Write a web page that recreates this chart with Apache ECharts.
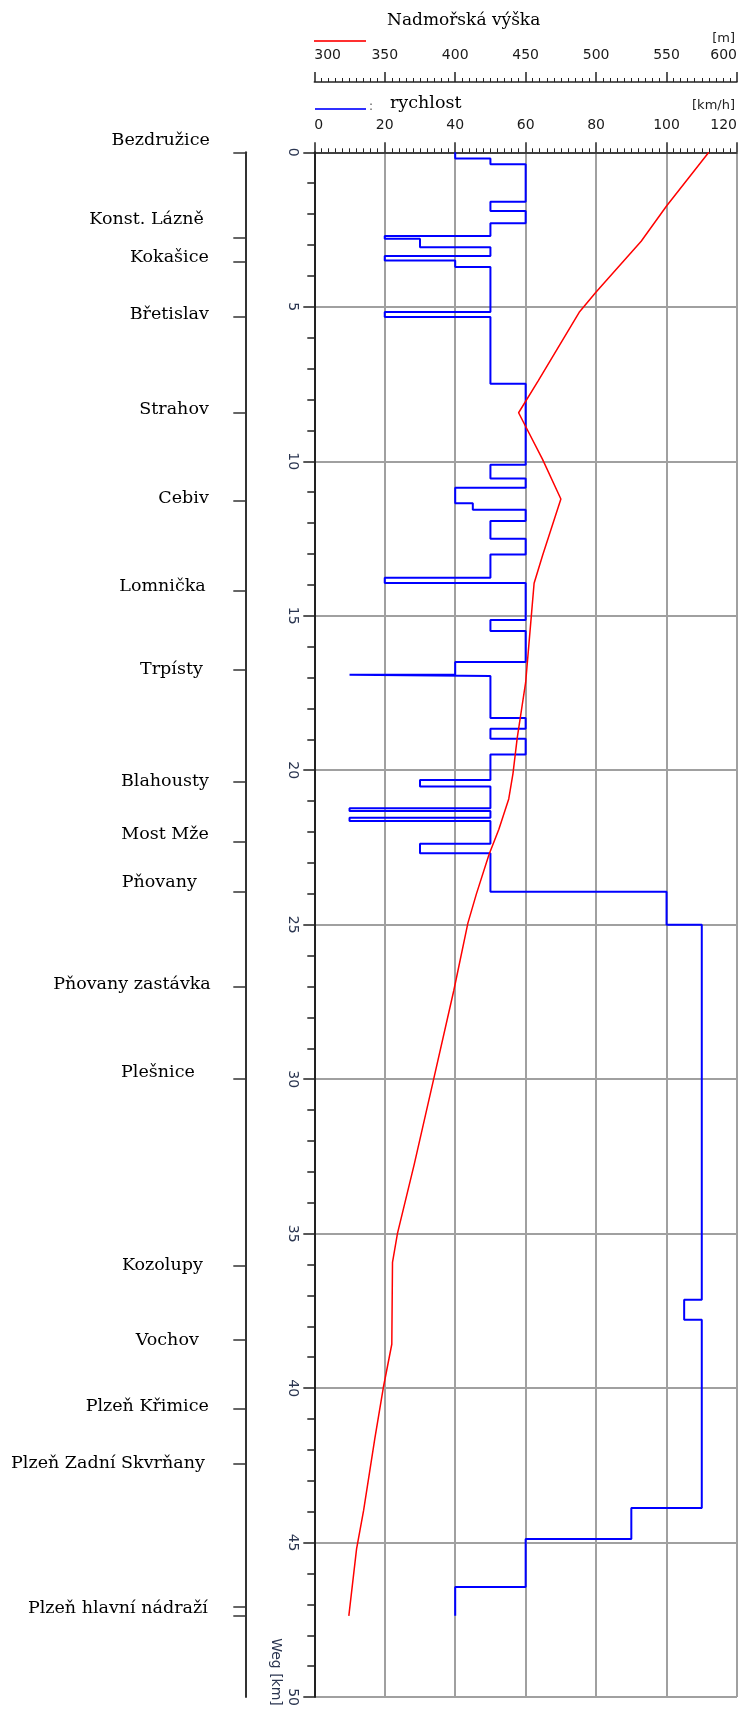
<!DOCTYPE html>
<html>
<head>
<meta charset="utf-8">
<script src="https://cdn.jsdelivr.net/npm/echarts@6/dist/echarts.min.js"></script>
<style>
  html, body { margin: 0; padding: 0; background: #ffffff; }
  #chart { width: 740px; height: 1709px; }
</style>
</head>
<body>
<div id="chart"></div>
<script>
// ---- Line profile Bezdružice – Plzeň hlavní nádraží ----

// Permitted speed: segment i starts at speedFromKm[i] and lasts until the next start
const speedFromKm = [0, 0.2, 0.39, 1.6, 1.9, 2.3, 2.71, 2.8, 3.07, 3.36, 3.5, 3.71, 5.17, 5.33, 7.49,
  10.11, 10.56, 10.86, 11.36, 11.57, 11.93, 12.51, 13.02, 13.77, 13.94, 15.14, 15.49, 16.5, 16.91, 16.95,
  18.31, 18.66, 18.98, 19.49, 20.32, 20.53, 21.23, 21.32, 21.54, 21.64, 22.38, 22.69, 23.93, 25.0,
  37.14, 37.79, 43.88, 44.88, 46.44];
const speedKmh = [40, 50, 60, 50, 60, 50, 20, 30, 50, 20, 40, 50, 20, 50, 60,
  50, 60, 40, 45, 60, 50, 60, 50, 20, 60, 50, 60, 40, 10, 50,
  60, 50, 60, 50, 30, 50, 10, 50, 10, 50, 30, 50, 100, 110,
  105, 110, 90, 60, 40];
const routeEndKm = 47.37;

// Elevation above sea level along the line
const elevKm = [0, 1.74, 2.88, 4.52, 5.18, 7.39, 8.43, 9.94, 11.22, 13.05, 13.95, 15.02, 17.16, 18.96,
  20.11, 20.93, 21.91, 22.73, 24.01, 24.95, 27.13, 29.94, 32.74, 35.0, 35.93, 38.58, 39.98, 41.62,
  43.96, 45.2, 47.37];
const elevM = [580, 550, 532, 500, 488, 459, 445, 462, 475, 462, 456, 454, 450, 444,
  441, 438, 431, 424, 415, 409, 399, 385, 371, 359, 355.5, 355, 349, 343,
  335, 330, 324.5];

// Stations and stops
const stationNames = ['Bezdružice', 'Konst. Lázně', 'Kokašice', 'Břetislav', 'Strahov', 'Cebiv',
  'Lomnička', 'Trpísty', 'Blahousty', 'Most Mže', 'Pňovany', 'Pňovany zastávka', 'Plešnice',
  'Kozolupy', 'Vochov', 'Plzeň Křimice', 'Plzeň Zadní Skvrňany', 'Plzeň hlavní nádraží'];
const stationKm = [0, 2.75, 3.55, 5.32, 8.44, 11.27, 14.19, 16.74, 20.37, 22.32, 23.94, 27.02, 29.98,
  36.04, 38.43, 40.68, 42.45, 47.07];

// Axis ranges and steps
const distanceAxis = { min: 0, max: 50, step: 5 };
const speedAxis = { min: 0, max: 120, step: 20 };
const elevAxis = { min: 300, max: 600, step: 50 };

// Station label placement nudges [dx, dy] in px (layout only)
const stationLabelShift = [[0, -12], [-6, -18], [-1, -5], [-1, -2], [-1, -4], [-1, -2],
  [-4, -4], [-7, 0], [-1, 0], [-1, -7], [-13, -9], [1, -3], [-15, -6],
  [-7, 0], [-11, 1], [-1, -3], [-5, 0], [-2, 2]];

// Build the stepped speed polyline from the segments
const speedPath = [];
speedFromKm.forEach(function (start, i) {
  const end = i + 1 < speedFromKm.length ? speedFromKm[i + 1] : routeEndKm;
  speedPath.push([speedKmh[i], start], [speedKmh[i], end]);
});
const elevPath = elevKm.map(function (k, i) { return [elevM[i], k]; });

const AXIS_COLOR = '#222';
const GRID_COLOR = '#a0a0a0';
const sans = 'DejaVu Sans';
const serif = 'DejaVu Serif';

const chart = echarts.init(document.getElementById('chart'), null, { renderer: 'canvas' });

chart.setOption({
  animation: false,
  backgroundColor: '#ffffff',
  grid: { left: 314.3, top: 152.3, width: 424.7, height: 1555.5, containLabel: false },
  xAxis: [
    {
      type: 'value', position: 'top',
      min: speedAxis.min, max: speedAxis.max, interval: speedAxis.step,
      axisLine: { show: true, onZero: false, lineStyle: { color: AXIS_COLOR, width: 1.5 } },
      axisTick: { show: true, length: 10, lineStyle: { color: AXIS_COLOR, width: 1.5 } },
      minorTick: { show: true, splitNumber: 10, length: 4, lineStyle: { color: AXIS_COLOR, width: 1 } },
      axisLabel: { margin: 20, fontFamily: sans, fontSize: 14, color: '#1a1a1a',
        alignMinLabel: 'left', alignMaxLabel: 'right' },
      splitLine: { show: true, lineStyle: { color: GRID_COLOR, width: 2 } }
    },
    {
      type: 'value', position: 'top', offset: 70.3,
      min: elevAxis.min, max: elevAxis.max, interval: elevAxis.step,
      axisLine: { show: true, onZero: false, lineStyle: { color: AXIS_COLOR, width: 1.5 } },
      axisTick: { show: true, length: 10, lineStyle: { color: AXIS_COLOR, width: 1.5 } },
      minorTick: { show: true, splitNumber: 10, length: 4, lineStyle: { color: AXIS_COLOR, width: 1 } },
      axisLabel: { margin: 20, fontFamily: sans, fontSize: 14, color: '#1a1a1a',
        alignMinLabel: 'left', alignMaxLabel: 'right' },
      splitLine: { show: false }
    }
  ],
  yAxis: [
    {
      type: 'value', position: 'left', inverse: true,
      min: distanceAxis.min, max: distanceAxis.max, interval: distanceAxis.step,
      axisLine: { show: true, onZero: false, lineStyle: { color: AXIS_COLOR, width: 2 } },
      axisTick: { show: true, length: 11, lineStyle: { color: AXIS_COLOR, width: 1.5 } },
      minorTick: { show: true, splitNumber: 5, length: 7, lineStyle: { color: AXIS_COLOR, width: 1.5 } },
      axisLabel: { rotate: -90, margin: 15, fontFamily: sans, fontSize: 14, color: '#2a3550' },
      splitLine: { show: true, lineStyle: { color: GRID_COLOR, width: 2 } }
    },
    {
      // station axis to the left of the plot
      type: 'value', position: 'left', inverse: true, offset: 69,
      min: distanceAxis.min, max: distanceAxis.max,
      axisLine: { show: true, onZero: false, lineStyle: { color: '#333', width: 2 } },
      axisTick: { show: true, length: 12, customValues: stationKm.concat([routeEndKm]),
        lineStyle: { color: '#333', width: 1.5 } },
      axisLabel: { show: false },
      splitLine: { show: false }
    }
  ],
  series: [
    {
      name: 'rychlost', type: 'line', xAxisIndex: 0, yAxisIndex: 0,
      data: speedPath, symbol: 'none', silent: true,
      lineStyle: { color: '#0000ff', width: 2 }
    },
    {
      name: 'Nadmořská výška', type: 'line', xAxisIndex: 1, yAxisIndex: 0,
      data: elevPath, symbol: 'none', silent: true,
      lineStyle: { color: '#ff0000', width: 1.5 }
    },
    {
      name: 'stanice', type: 'scatter', xAxisIndex: 0, yAxisIndex: 1, clip: false, silent: true,
      symbolSize: 1, itemStyle: { color: '#ffffff', opacity: 0 },
      data: stationKm.map(function (k, i) {
        return { value: [0, k], label: { offset: stationLabelShift[i] } };
      }),
      label: {
        show: true, position: 'left', distance: 104, opacity: 1,
        formatter: function (p) { return stationNames[p.dataIndex]; },
        fontFamily: serif, fontSize: 17.5, color: '#000000'
      }
    }
  ],
  graphic: [
    { type: 'text', left: 387, top: 12,
      style: { text: 'Nadmořská výška', fontFamily: serif, fontSize: 17, fill: '#000' } },
    { type: 'line', shape: { x1: 314, y1: 41, x2: 366, y2: 41 },
      style: { stroke: '#ff3030', lineWidth: 2 } },
    { type: 'text', right: 5, top: 32,
      style: { text: '[m]', fontFamily: sans, fontSize: 13, fill: '#222' } },
    { type: 'line', shape: { x1: 315, y1: 109, x2: 366, y2: 109 },
      style: { stroke: '#3030ff', lineWidth: 2 } },
    { type: 'text', left: 369, top: 101,
      style: { text: ':', fontFamily: sans, fontSize: 12, fill: '#555' } },
    { type: 'text', left: 390, top: 94,
      style: { text: 'rychlost', fontFamily: serif, fontSize: 17.5, fill: '#000' } },
    { type: 'text', right: 5, top: 99,
      style: { text: '[km/h]', fontFamily: sans, fontSize: 13, fill: '#222' } },
    { type: 'text', x: 276, y: 1672, rotation: -Math.PI / 2,
      style: { text: 'Weg [km]', fontFamily: sans, fontSize: 14, fill: '#2a3550',
        align: 'center', verticalAlign: 'middle' } }
  ]
});
</script>
</body>
</html>
